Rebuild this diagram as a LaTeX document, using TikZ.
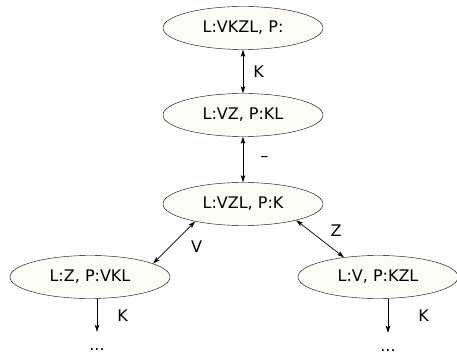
\documentclass[tikz,border=0pt]{standalone}
\usepackage{fontspec}
\setmainfont{DejaVu Sans}
\usepackage{tikz}
\usetikzlibrary{arrows.meta,calc,positioning,shapes}
\definecolor{statefill}{RGB}{252,252,247}
\tikzset{state/.style={
    ellipse,
    draw,
    fill=statefill,
    minimum width=160pt,
    minimum height=43pt,
    inner sep=0pt
  },
  dots/.style={
    minimum height=36pt,
    inner sep=0pt
  },
  trans/.style={<->, line width=0.7pt}
}

\begin{document}
\begin{tikzpicture}[x=1pt, y=-1pt,
    font=\fontsize{16}{19}\selectfont,
    >={Stealth[length=7pt,width=4.5pt,inset=1.5pt]}]
    \useasboundingbox (0,0) rectangle (457,355);
    \node[state] (vkzl) at (243,28)  {L:VKZL, P:};
    \node[state] (vz)   at (243,115) {L:VZ, P:KL};
    \node[state] (vzl)  at (243,204) {L:VZL, P:K};
    \node[state] (z)    at (90,277)  {L:Z, P:VKL};
    \node[state] (v)    at (378,277) {L:V, P:KZL};
    \node[dots] (zdots) at (97,350)  {...};
    \node[dots] (vdots) at (388,351) {...};

    \draw[trans] (vkzl) -- node[midway, right=6.7pt] (lk) {K} (vz);
    \draw[trans] (vz) -- node[midway, right=13.7pt] (lnone) {\textendash} (vzl);
    \draw[trans] (vzl.200) -- node[midway, xshift=22.5pt, yshift=-4.5pt] (lv) {V} (z.12);
    \draw[trans] (vzl.343) -- node[midway, xshift=16pt, yshift=8pt] (lz) {Z} (v.150);
    \draw[->, line width=0.7pt] (z.south -| zdots) -- node[midway, right=16.7pt] (lzk) {K} (zdots.north);
    \draw[->, line width=0.7pt] (v.south -| vdots) -- node[midway, right=26.7pt] (lvk) {K} (vdots.north);
    \end{tikzpicture}
\end{document}
